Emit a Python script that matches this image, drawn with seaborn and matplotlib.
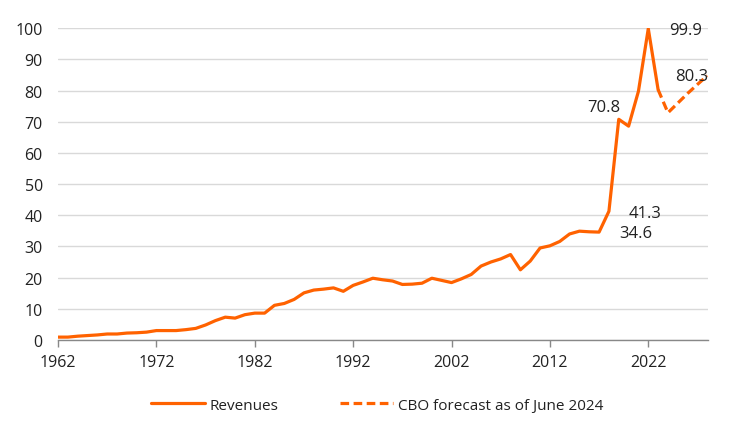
import matplotlib
matplotlib.use("Agg")
import matplotlib.pyplot as plt
import seaborn as sns
import pandas as pd
from matplotlib.lines import Line2D

# ---- data ----
rev_years = list(range(1962, 2024))
rev_values = [0.9, 0.9, 1.2, 1.4, 1.6, 1.9, 1.9, 2.2, 2.3, 2.5,
              3.0, 3.0, 3.0, 3.3, 3.7, 4.8, 6.2, 7.3, 7.0, 8.1,
              8.6, 8.6, 11.1, 11.7, 13.0, 15.1, 16.0, 16.3, 16.7, 15.6,
              17.5, 18.6, 19.8, 19.3, 18.9, 17.8, 17.9, 18.2, 19.8, 19.1,
              18.4, 19.6, 21.0, 23.7, 25.0, 26.0, 27.4, 22.5, 25.3, 29.5,
              30.2, 31.6, 34.0, 34.9, 34.7, 34.6, 41.3, 70.8, 68.6, 79.8,
              99.9, 80.3]
cbo_years = [2023, 2024, 2025, 2026, 2027, 2028]
cbo_values = [80.3, 72.9, 76.0, 79.1, 82.0, 84.8]
label_texts = ["99.9", "80.3", "70.8", "41.3", "34.6"]
label_x = [2025.8, 2026.4, 2017.5, 2021.7, 2020.7]
label_y = [99.5, 84.6, 74.6, 40.8, 34.4]
series_names = ["Revenues", "CBO forecast as of June 2024"]
x_ticks = [1962, 1972, 1982, 1992, 2002, 2012, 2022]
y_ticks = list(range(0, 101, 10))

ORANGE = "#FF6200"
TEXT = "#222222"
DASH = (0, (2.7, 1.4))

sns.set_theme(style="white")
plt.rcParams["font.family"] = ["Open Sans", "DejaVu Sans"]

fig = plt.figure(figsize=(7.44, 4.31), dpi=100)
ax = fig.add_axes([0.078, 0.209, 0.874, 0.723])

df_rev = pd.DataFrame({"year": rev_years, "value": rev_values})
df_cbo = pd.DataFrame({"year": cbo_years, "value": cbo_values})

sns.lineplot(data=df_rev, x="year", y="value", ax=ax, color=ORANGE,
             linewidth=2.3, solid_joinstyle="round")
sns.lineplot(data=df_cbo, x="year", y="value", ax=ax, color=ORANGE,
             linewidth=2.3, linestyle=DASH)

ax.set_xlim(1962, 2028.1)
ax.set_ylim(0, 100)
ax.set_xticks(x_ticks)
ax.set_yticks(y_ticks)
ax.set_xlabel("")
ax.set_ylabel("")
ax.grid(axis="y", color="#d9d9d9", linewidth=1)
ax.set_axisbelow(True)
for s in ["top", "right", "left"]:
    ax.spines[s].set_visible(False)
ax.spines["bottom"].set_color("#888888")
ax.spines["bottom"].set_linewidth(1)
ax.tick_params(axis="x", bottom=True, length=5, width=1, color="#888888",
               labelsize=11.5, labelcolor=TEXT, pad=5)
ax.tick_params(axis="y", left=False, length=0, labelsize=11.5,
               labelcolor=TEXT, pad=11)

for t, x, y in zip(label_texts, label_x, label_y):
    ax.text(x, y, t, ha="center", va="center", fontsize=12, color=TEXT)

handles = [Line2D([], [], color=ORANGE, linewidth=2.3),
           Line2D([], [], color=ORANGE, linewidth=2.3, linestyle=DASH)]
fig.legend(handles, series_names, loc="center", bbox_to_anchor=(0.507, 0.058),
           ncol=2, frameon=False, fontsize=11, handlelength=3.5,
           columnspacing=4.0, handletextpad=0.3, labelcolor=TEXT)

fig.savefig("out.png", dpi=100)
